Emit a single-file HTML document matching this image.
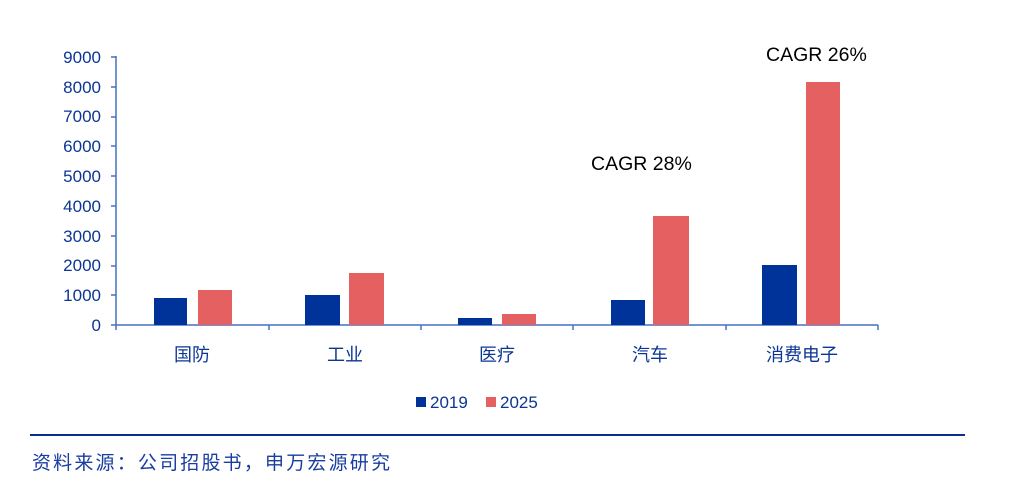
<!DOCTYPE html>
<html><head><meta charset="utf-8"><style>
body{margin:0;background:#fff;width:1016px;height:486px;overflow:hidden;font-family:"Liberation Sans","Noto Sans CJK SC",sans-serif}
</style></head><body>
<svg width="1016" height="486" xmlns="http://www.w3.org/2000/svg" style="position:absolute;left:0;top:0">
<g font-family="Liberation Sans, Noto Sans CJK SC, sans-serif" fill="#0b3694" font-size="17" text-anchor="end">
<text x="101" y="331">0</text>
<text x="101" y="301">1000</text>
<text x="101" y="271">2000</text>
<text x="101" y="242">3000</text>
<text x="101" y="212">4000</text>
<text x="101" y="182">5000</text>
<text x="101" y="152">6000</text>
<text x="101" y="122">7000</text>
<text x="101" y="93">8000</text>
<text x="101" y="63">9000</text>
</g>
<g stroke="#4472c4" stroke-width="1.5">
<line x1="116" y1="56" x2="116" y2="330"/>
<line x1="111" y1="325" x2="878" y2="325"/>
<line x1="111" y1="57" x2="116" y2="57"/><line x1="111" y1="87" x2="116" y2="87"/><line x1="111" y1="117" x2="116" y2="117"/><line x1="111" y1="146" x2="116" y2="146"/><line x1="111" y1="176" x2="116" y2="176"/><line x1="111" y1="206" x2="116" y2="206"/><line x1="111" y1="236" x2="116" y2="236"/><line x1="111" y1="266" x2="116" y2="266"/><line x1="111" y1="295" x2="116" y2="295"/>
<line x1="269" y1="325" x2="269" y2="330"/><line x1="421" y1="325" x2="421" y2="330"/><line x1="573" y1="325" x2="573" y2="330"/><line x1="726" y1="325" x2="726" y2="330"/><line x1="878" y1="325" x2="878" y2="330"/>
</g>
<g fill="#003399">
<rect x="154" y="298" width="33" height="27"/>
<rect x="305" y="295" width="35" height="30"/>
<rect x="458" y="318" width="34" height="7"/>
<rect x="611" y="300" width="34" height="25"/>
<rect x="762" y="265" width="35" height="60"/>
</g>
<g fill="#e56060">
<rect x="198" y="290" width="34" height="35"/>
<rect x="349" y="273" width="35" height="52"/>
<rect x="502" y="314" width="34" height="11"/>
<rect x="653" y="216" width="36" height="109"/>
<rect x="806" y="82" width="34" height="243"/>
</g>
<g font-size="19.5" fill="#000" font-family="Liberation Sans, Noto Sans CJK SC, sans-serif">
<text x="591" y="170">CAGR 28%</text>
<text x="766" y="61">CAGR 26%</text>
</g>
<g font-size="18" fill="#0b3694" text-anchor="middle" font-family="Liberation Sans, Noto Sans CJK SC, sans-serif">
<text x="192" y="361">国防</text>
<text x="345" y="361">工业</text>
<text x="497" y="361">医疗</text>
<text x="650" y="361">汽车</text>
<text x="802" y="361">消费电子</text>
</g>
<rect x="416" y="397" width="10" height="10" fill="#003399"/>
<text x="430" y="408" font-size="17" fill="#0b3694" font-family="Liberation Sans, sans-serif">2019</text>
<rect x="486" y="397" width="10" height="10" fill="#e56060"/>
<text x="500" y="408" font-size="17" fill="#0b3694" font-family="Liberation Sans, sans-serif">2025</text>
<line x1="30" y1="435" x2="965" y2="435" stroke="#0b2e8a" stroke-width="2"/>
<text x="32" y="469" font-size="19" textLength="358" fill="#1a3da0" font-family="Noto Sans CJK SC, sans-serif">资料来源：公司招股书，申万宏源研究</text>
</svg>
</body></html>
